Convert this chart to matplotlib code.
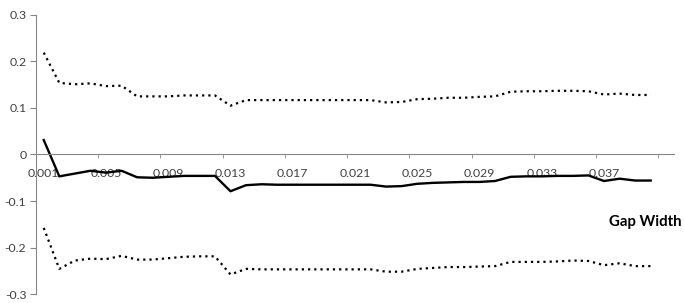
import numpy as np
import matplotlib
matplotlib.use("Agg")
import matplotlib.pyplot as plt

# gap widths 0.001 ... 0.040 (category axis)
gap = [round(0.001 * (i + 1), 3) for i in range(40)]

estimate = [0.031, -0.047, -0.041, -0.035, -0.039, -0.035, -0.049, -0.050, -0.048, -0.046,
            -0.046, -0.046, -0.079, -0.066, -0.064, -0.065, -0.065, -0.065, -0.065, -0.065,
            -0.065, -0.065, -0.069, -0.068, -0.063, -0.061, -0.060, -0.059, -0.059, -0.057,
            -0.048, -0.047, -0.047, -0.046, -0.046, -0.045, -0.057, -0.052, -0.056, -0.056]

upper = [0.219, 0.154, 0.151, 0.153, 0.147, 0.148, 0.125, 0.125, 0.125, 0.127,
         0.127, 0.127, 0.105, 0.117, 0.117, 0.117, 0.117, 0.117, 0.117, 0.117,
         0.117, 0.117, 0.112, 0.113, 0.119, 0.120, 0.122, 0.122, 0.124, 0.125,
         0.135, 0.136, 0.136, 0.137, 0.137, 0.136, 0.129, 0.131, 0.128, 0.128]

lower = [-0.158, -0.246, -0.228, -0.224, -0.225, -0.218, -0.226, -0.226, -0.223, -0.220,
         -0.219, -0.219, -0.258, -0.246, -0.247, -0.247, -0.247, -0.247, -0.247, -0.247,
         -0.247, -0.247, -0.252, -0.252, -0.246, -0.244, -0.242, -0.242, -0.241, -0.240,
         -0.231, -0.231, -0.231, -0.230, -0.228, -0.229, -0.238, -0.234, -0.240, -0.240]

plt.rcParams['font.family'] = ['Lato', 'DejaVu Sans']

fig = plt.figure(figsize=(6.84, 3.03), dpi=100)
ax = fig.add_axes([0.0526, 0.0297, 0.9328, 0.9208])

x = np.arange(len(gap))
ax.plot(x, estimate, color='black', lw=1.7, solid_joinstyle='round')
ax.plot(x, upper, color='black', lw=1.6, linestyle=(0, (1, 1.8)))
ax.plot(x, lower, color='black', lw=1.6, linestyle=(0, (1, 1.8)))

ax.set_xlim(-0.5, len(gap) + 0.5)
ax.set_ylim(-0.3, 0.3)

axis_col = '#868686'
for s in ['top', 'right']:
    ax.spines[s].set_visible(False)
ax.spines['bottom'].set_position(('data', 0))
ax.spines['bottom'].set_color(axis_col)
ax.spines['left'].set_color(axis_col)

ax.set_yticks(np.arange(-0.3, 0.31, 0.1))
ax.set_yticklabels(['-0.3', '-0.2', '-0.1', '0', '0.1', '0.2', '0.3'])
ax.tick_params(axis='y', length=4, color=axis_col, labelsize=8.8, labelcolor='#404040', pad=3)

# labels every 4th category, tick marks at category boundaries
ax.set_xticks(x[::4])
ax.set_xticklabels([f'{g:.3f}' for g in gap[::4]])
ax.set_xticks(np.arange(-0.5, len(gap) + 0.5, 4), minor=True)
ax.tick_params(axis='x', which='major', length=0, labelsize=8.8, labelcolor='#404040', pad=10)
ax.tick_params(axis='x', which='minor', length=3, color=axis_col, direction='out')

fig.text(0.943, 0.267, 'Gap Width', ha='center', va='center',
         fontsize=10.8, fontweight='bold', color='black')

fig.savefig('out.png', dpi=100)
